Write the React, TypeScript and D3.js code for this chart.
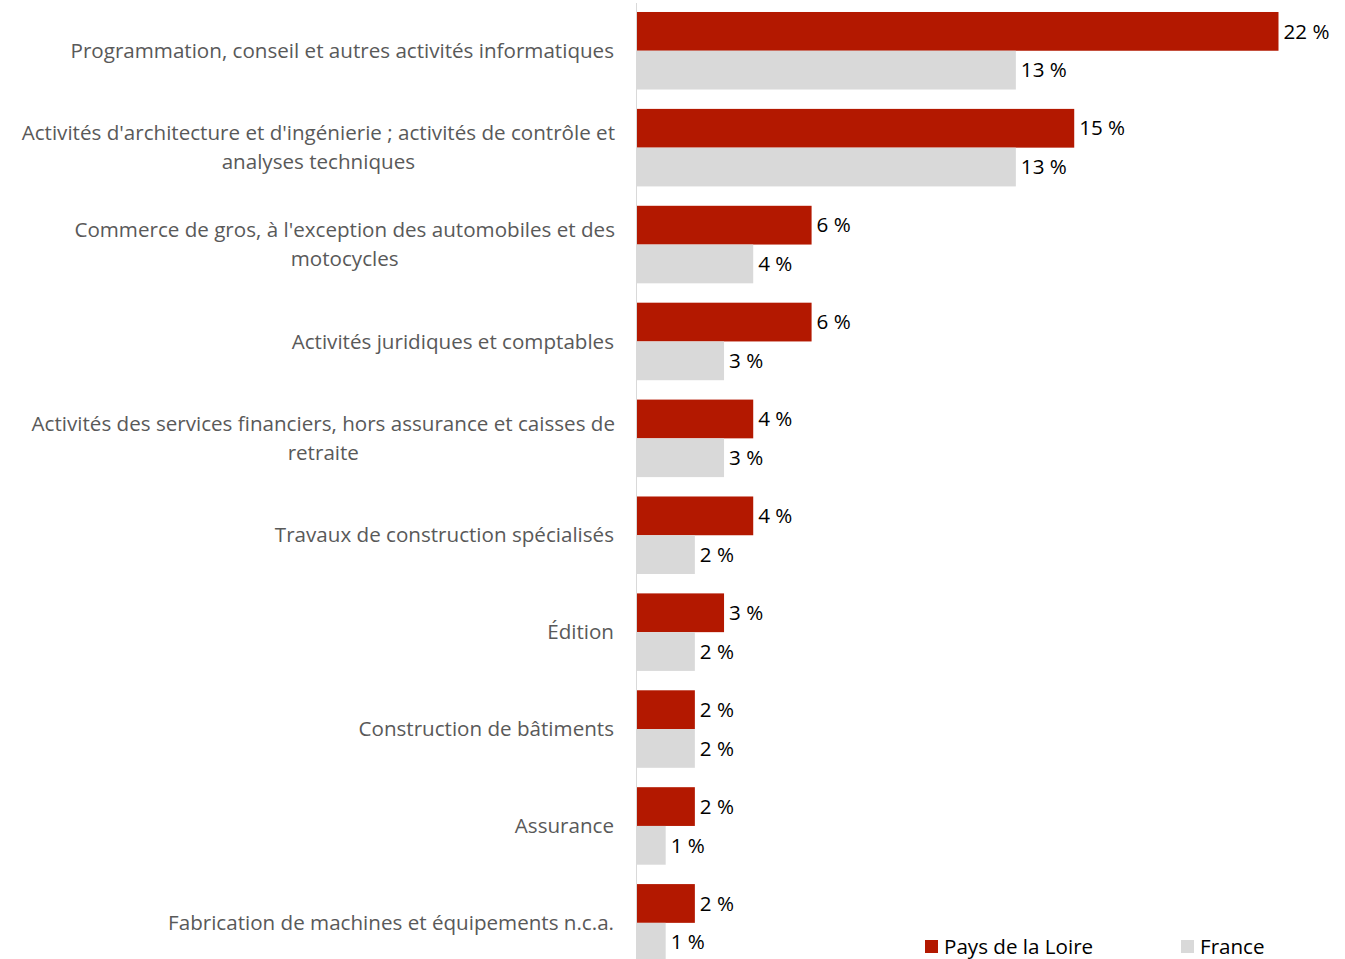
import React, { useEffect, useRef } from "react";
import * as d3 from "d3";

const categories: string[][] = [
  ["Programmation, conseil et autres activités informatiques"],
  ["Activités d'architecture et d'ingénierie ; activités de contrôle et", "analyses techniques"],
  ["Commerce de gros, à l'exception des automobiles et des", "motocycles"],
  ["Activités juridiques et comptables"],
  ["Activités des services financiers, hors assurance et caisses de", "retraite"],
  ["Travaux de construction spécialisés"],
  ["Édition"],
  ["Construction de bâtiments"],
  ["Assurance"],
  ["Fabrication de machines et équipements n.c.a."],
];
const paysDeLaLoire: number[] = [22, 15, 6, 6, 4, 4, 3, 2, 2, 2];
const france: number[] = [13, 13, 4, 3, 3, 2, 2, 2, 1, 1];
const seriesNames: string[] = ["Pays de la Loire", "France"];
const colors: string[] = ["#b31800", "#d9d9d9"];

const W = 1345;
const H = 959;
const FONT = "'Open Sans', sans-serif";
const FS = 20.6;

export default function App() {
  const ref = useRef<SVGSVGElement>(null);
  useEffect(() => {
    const svg = d3.select(ref.current);
    svg.selectAll("*").remove();
    const keys = categories.map((_, i) => String(i));
    const x = d3.scaleLinear().domain([0, 22]).range([636.5, 1278.5]);
    const y = d3.scaleBand().domain(keys).range([2.3, 971.3]).paddingInner(0.2).paddingOuter(0.1);
    const ySub = d3.scaleBand().domain(["0", "1"]).range([0, y.bandwidth()]);
    const series = [paysDeLaLoire, france];

    const g = svg.append("g");
    keys.forEach((k, i) => {
      series.forEach((vals, s) => {
        const y0 = (y(k) as number) + (ySub(String(s)) as number);
        g.append("rect")
          .attr("x", x(0))
          .attr("y", y0)
          .attr("width", x(vals[i]) - x(0))
          .attr("height", ySub.bandwidth())
          .attr("fill", colors[s]);
        g.append("text")
          .attr("x", x(vals[i]) + 5)
          .attr("y", y0 + ySub.bandwidth() / 2)
          .attr("dy", "0.35em")
          .attr("font-family", FONT)
          .attr("font-size", FS)
          .attr("fill", "#000")
          .text(`${vals[i]} %`);
      });
      const lines = categories[i];
      const cy = (y(k) as number) + y.bandwidth() / 2;
      const lineH = 29;
      const texts = lines.map((ln, j) =>
        svg.append("text")
          .attr("y", cy + (j - (lines.length - 1) / 2) * lineH)
          .attr("dy", "0.35em")
          .attr("font-family", FONT)
          .attr("font-size", FS)
          .attr("fill", "#595959")
          .text(ln)
      );
      const widths = texts.map((t) => (t.node() as SVGTextElement).getComputedTextLength());
      const maxW = Math.max(...widths);
      const rightX = lines.length > 1 ? 615 : 614;
      const center = rightX - maxW / 2;
      texts.forEach((t) => t.attr("x", center).attr("text-anchor", "middle"));
    });

    svg.append("line")
      .attr("x1", x(0)).attr("x2", x(0))
      .attr("y1", 3).attr("y2", H)
      .attr("stroke", "#d9d9d9").attr("stroke-width", 1);

    const legendX = [925, 1181];
    seriesNames.forEach((n, s) => {
      svg.append("rect")
        .attr("x", legendX[s]).attr("y", 940)
        .attr("width", 13).attr("height", 13)
        .attr("fill", colors[s]);
      svg.append("text")
        .attr("x", legendX[s] + 19).attr("y", 947)
        .attr("dy", "0.35em")
        .attr("font-family", FONT)
        .attr("font-size", FS)
        .attr("fill", "#000")
        .text(n);
    });
  }, []);
  return (
    <div style={{ position: "absolute", left: 0, top: 0 }}>
      <svg ref={ref} width={W} height={H} style={{ display: "block", background: "#fff" }} />
    </div>
  );
}
